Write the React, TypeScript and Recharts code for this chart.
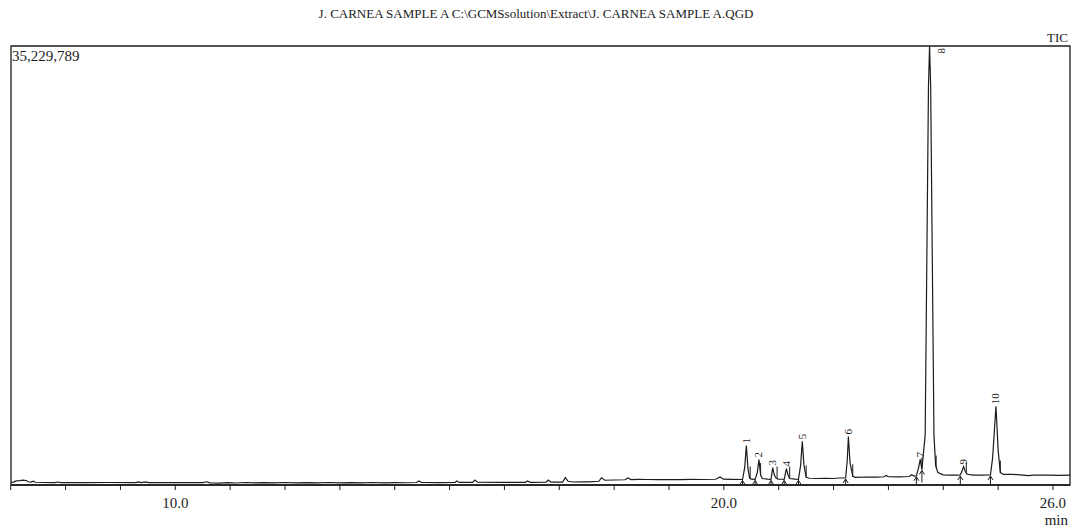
import React from "react";
import { ComposedChart, Line, Scatter, XAxis, YAxis, ReferenceArea } from "recharts";

// retention time (min) / TIC counts
const BASELINE: [number, number][] = [
  [7.0, 200e3], [7.05, 230e3], [7.1, 330e3], [7.16, 350e3], [7.22, 390e3], [7.28, 360e3], [7.32, 260e3],
  [7.37, 230e3], [7.41, 300e3], [7.45, 220e3], [7.6, 200e3], [7.8, 190e3], [7.86, 240e3], [7.92, 190e3],
  [8.3, 185e3], [8.8, 200e3], [9.28, 190e3], [9.33, 250e3], [9.38, 195e3], [9.46, 245e3], [9.51, 195e3],
  [10.0, 190e3], [10.5, 185e3], [10.57, 260e3], [10.63, 170e3], [10.8, 150e3], [10.95, 190e3], [11.1, 160e3],
  [11.3, 200e3], [11.45, 165e3], [11.6, 195e3], [11.8, 170e3], [12.0, 200e3], [12.2, 175e3], [12.4, 195e3],
  [12.6, 170e3], [12.8, 200e3], [13.0, 175e3], [13.2, 195e3], [13.4, 170e3], [13.6, 200e3], [13.8, 175e3],
  [14.0, 190e3], [14.2, 180e3], [14.4, 200e3], [14.44, 320e3], [14.49, 200e3], [14.8, 195e3], [15.1, 200e3],
  [15.13, 320e3], [15.18, 205e3], [15.42, 215e3], [15.46, 400e3], [15.51, 220e3], [15.9, 205e3],
  [16.38, 215e3], [16.42, 320e3], [16.47, 215e3], [16.76, 225e3], [16.8, 400e3], [16.85, 225e3],
  [17.06, 235e3], [17.11, 590e3], [17.16, 300e3], [17.25, 240e3], [17.4, 260e3], [17.55, 250e3],
  [17.72, 300e3], [17.77, 580e3], [17.83, 380e3], [18.0, 400e3], [18.2, 420e3], [18.25, 560e3],
  [18.31, 430e3], [18.45, 450e3], [18.6, 440e3], [18.8, 430e3], [19.0, 440e3], [19.2, 430e3],
  [19.4, 450e3], [19.6, 440e3], [19.85, 460e3], [19.93, 650e3], [19.99, 470e3], [20.15, 450e3],
];

const PEAK_REGION: [number, number][] = [
  [20.34, 440e3], [20.38, 1.4e6], [20.41, 3.17e6], [20.44, 1.3e6], [20.47, 560e3], [20.5, 470e3],
  [20.57, 450e3], [20.61, 1.0e6], [20.64, 2.05e6], [20.67, 800e3], [20.7, 520e3], [20.8, 470e3],
  [20.86, 450e3], [20.89, 1.4e6], [20.92, 800e3], [20.95, 560e3], [20.99, 470e3], [21.06, 460e3],
  [21.1, 450e3], [21.14, 1.32e6], [21.17, 800e3], [21.2, 520e3], [21.3, 470e3], [21.36, 460e3],
  [21.4, 1.6e6], [21.43, 3.51e6], [21.46, 1.6e6], [21.5, 620e3], [21.56, 540e3], [21.7, 520e3],
  [21.85, 540e3], [22.0, 520e3], [22.1, 560e3], [22.22, 560e3], [22.25, 2.0e6], [22.27, 3.89e6],
  [22.3, 1.8e6], [22.35, 700e3], [22.4, 620e3], [22.6, 640e3], [22.8, 630e3], [22.92, 660e3],
  [22.96, 760e3], [23.0, 660e3], [23.2, 650e3], [23.38, 680e3], [23.42, 820e3], [23.47, 720e3],
  [23.51, 740e3], [23.55, 1.4e6], [23.58, 2.05e6], [23.61, 1.25e6], [23.67, 4e6], [23.7, 18e6],
  [23.73, 32e6], [23.75, 35229789], [23.77, 32e6], [23.8, 18e6], [23.83, 4e6], [23.86, 1.6e6],
  [23.9, 1.0e6], [24.0, 820e3], [24.1, 800e3], [24.25, 790e3], [24.31, 800e3], [24.35, 1.2e6],
  [24.37, 1.48e6], [24.4, 1.1e6], [24.44, 860e3], [24.55, 800e3], [24.7, 790e3], [24.86, 800e3],
  [24.9, 2.2e6], [24.96, 6.32e6], [25.0, 2.8e6], [25.04, 1.0e6], [25.1, 850e3], [25.25, 860e3],
  [25.35, 830e3], [25.45, 800e3], [25.55, 760e3], [25.65, 790e3], [25.8, 800e3], [25.95, 790e3],
  [26.1, 780e3], [26.31, 790e3],
];

const PEAK_NO = ["1", "2", "3", "4", "5", "6", "7", "8", "9", "10"];
const PEAK_RT = [20.41, 20.64, 20.89, 21.14, 21.43, 22.27, 23.58, 23.75, 24.37, 24.96];
const PEAK_TOP = [3.17e6, 2.05e6, 1.4e6, 1.32e6, 3.51e6, 3.89e6, 2.05e6, 35229789, 1.48e6, 6.32e6];

// integration start (arrows) and end marks
const START_RT = [20.34, 20.57, 20.86, 21.1, 21.36, 22.22, 23.51, 23.61, 24.31, 24.86];
const START_LVL = [440e3, 450e3, 450e3, 450e3, 460e3, 560e3, 740e3, 1.25e6, 800e3, 800e3];
const END_RT = [20.48, 20.67, 20.97, 21.2, 21.5, 22.35, 23.61, 23.87, 24.42, 25.04];
const END_LVL = [520e3, 800e3, 520e3, 520e3, 620e3, 700e3, 1.25e6, 1.4e6, 860e3, 1.0e6];

const X_TICKS = [7, 8, 9, 10, 11, 12, 13, 14, 15, 16, 17, 18, 19, 20, 21, 22, 23, 24, 25, 26];
const X_LABELS = [10, 20, 26];
const Y_MAX = 35229789;
const X_MIN = 7.005;
const X_MAX = 26.31;

const FONT = "'Liberation Serif', 'Times New Roman', serif";
const INK = "#1c1c1c";

const signal = [...BASELINE, ...PEAK_REGION].map(([t, v]) => ({ t, v }));
const peaks = PEAK_NO.map((n, i) => ({ t: PEAK_RT[i], v: PEAK_TOP[i], n }));
const starts = START_RT.map((t, i) => ({ t, v: START_LVL[i] }));
const ends = END_RT.map((t, i) => ({ t, v: END_LVL[i] }));

const PLOT_TOP = 46;

const PeakLabel = (p: any) => {
  const { cx, cy, payload } = p;
  if (cx == null) return null;
  const clipped = cy < PLOT_TOP + 14;
  const x = clipped ? cx + 15 : cx + 3.5;
  const y = clipped ? PLOT_TOP + 2 : cy - 2;
  return (
    <text x={x} y={y} transform={`rotate(-90 ${x} ${y})`} fontFamily={FONT} fontSize={11}
      fill={INK} textAnchor={clipped ? "end" : "start"}>
      {payload.n}
    </text>
  );
};

const StartArrow = (p: any) => {
  const { cx, cy } = p;
  if (cx == null) return null;
  return (
    <g stroke={INK} strokeWidth={1} fill="none">
      <line x1={cx} y1={cy + 1} x2={cx} y2={cy + 13} />
      <polyline points={`${cx - 2.5},${cy + 5} ${cx},${cy + 1} ${cx + 2.5},${cy + 5}`} />
    </g>
  );
};

const EndMark = (p: any) => {
  const { cx, cy } = p;
  if (cx == null) return null;
  return <line x1={cx} y1={cy} x2={cx} y2={cy - 12} stroke={INK} strokeWidth={1} />;
};

const XTick = (p: any) => {
  const { x, y, payload } = p;
  if (!X_LABELS.includes(payload.value)) return null;
  return (
    <text x={x} y={y + 18} textAnchor="middle" fontFamily={FONT} fontSize={15} fill={INK}>
      {payload.value.toFixed(1)}
    </text>
  );
};

export default function App() {
  return (
    <div style={{ position: "absolute", left: 0, top: 0, width: 1072, height: 527, background: "#fff" }}>
      <ComposedChart width={1072} height={527} margin={{ top: PLOT_TOP, right: 2, left: 11, bottom: 0 }}>
        <XAxis type="number" dataKey="t" domain={[X_MIN, X_MAX]} ticks={X_TICKS} allowDataOverflow
          height={42} tickSize={5} tickMargin={0} interval={0} tick={<XTick />}
          axisLine={{ stroke: INK, strokeWidth: 1.3 }} tickLine={{ stroke: INK, strokeWidth: 1 }} />
        <YAxis type="number" dataKey="v" domain={[0, Y_MAX]} hide allowDataOverflow />
        <ReferenceArea x1={X_MIN} x2={X_MAX} y1={0} y2={Y_MAX} fill="none" stroke={INK} strokeWidth={1.3}
          ifOverflow="visible" />
        <Line data={signal} dataKey="v" type="linear" stroke={INK} strokeWidth={1.2} dot={false}
          isAnimationActive={false} />
        <Scatter data={starts} dataKey="v" shape={<StartArrow />} isAnimationActive={false} />
        <Scatter data={ends} dataKey="v" shape={<EndMark />} isAnimationActive={false} />
        <Scatter data={peaks} dataKey="v" shape={<PeakLabel />} isAnimationActive={false} />
      </ComposedChart>
      <svg width={1072} height={527} style={{ position: "absolute", left: 0, top: 0, pointerEvents: "none" }}>
        <text x={536} y={18} textAnchor="middle" fontFamily={FONT} fontSize={13} fill={INK}>
          J. CARNEA SAMPLE A C:\GCMSsolution\Extract\J. CARNEA SAMPLE A.QGD
        </text>
        <text x={1068} y={42} textAnchor="end" fontFamily={FONT} fontSize={13} fill={INK}>TIC</text>
        <text x={12} y={61} fontFamily={FONT} fontSize={15} fill={INK}>35,229,789</text>
        <text x={1068} y={525} textAnchor="end" fontFamily={FONT} fontSize={15} fill={INK}>min</text>
      </svg>
    </div>
  );
}
